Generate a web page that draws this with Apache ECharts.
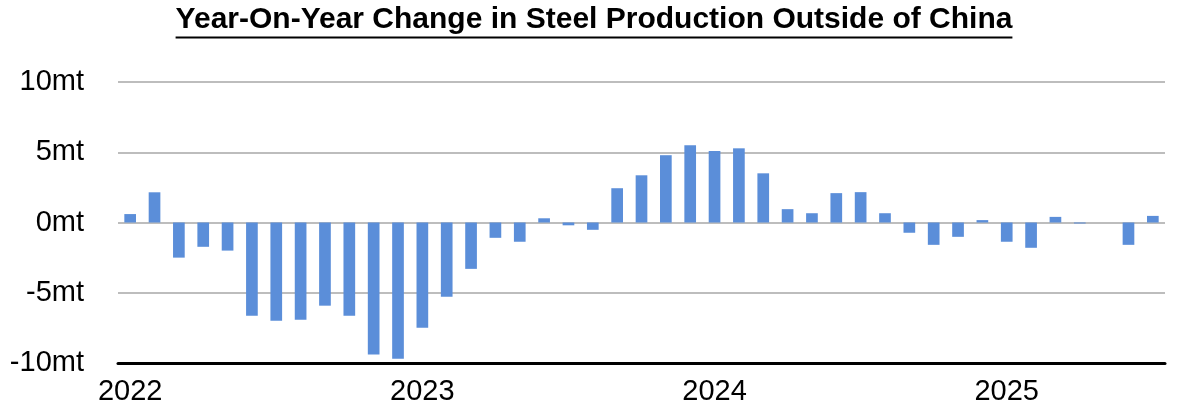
<!DOCTYPE html>
<html>
<head>
<meta charset="utf-8">
<script src="https://cdn.jsdelivr.net/npm/echarts@6/dist/echarts.min.js"></script>
<style>
html,body{margin:0;padding:0;background:#fff;}
#chart{width:1188px;height:413px;}
</style>
</head>
<body>
<div id="chart"></div>
<script>
const titleText = 'Year-On-Year Change in Steel Production Outside of China';
const months = [
  '2022-01','2022-02','2022-03','2022-04','2022-05','2022-06','2022-07','2022-08','2022-09','2022-10','2022-11','2022-12',
  '2023-01','2023-02','2023-03','2023-04','2023-05','2023-06','2023-07','2023-08','2023-09','2023-10','2023-11','2023-12',
  '2024-01','2024-02','2024-03','2024-04','2024-05','2024-06','2024-07','2024-08','2024-09','2024-10','2024-11','2024-12',
  '2025-01','2025-02','2025-03','2025-04','2025-05','2025-06','2025-07'
];
const yoyChange = [
  0.6, 2.15, -2.5, -1.73, -2.0, -6.63, -7.0, -6.92, -5.92, -6.63, -9.4, -9.7,
  -7.49, -5.28, -3.3, -1.09, -1.37, 0.3, -0.2, -0.52, 2.44, 3.36, 4.79, 5.5,
  5.09, 5.28, 3.5, 0.95, 0.66, 2.09, 2.16, 0.66, -0.73, -1.59, -1.02, 0.17,
  -1.37, -1.8, 0.4, -0.07, 0, -1.59, 0.47
];
const yTicks = { min: -10, max: 10, interval: 5 };

const FONT = '"Liberation Sans", Arial, Helvetica, sans-serif';
const chart = echarts.init(document.getElementById('chart'));

const cv = document.createElement('canvas').getContext('2d');
cv.font = 'bold 30px ' + FONT;
const tw = cv.measureText(titleText).width;
const cx = 1188 / 2;

chart.setOption({
  animation: false,
  title: {
    text: titleText,
    left: 'center',
    top: 5,
    padding: 0,
    textStyle: { fontFamily: FONT, fontSize: 30, fontWeight: 'bold', color: '#000' }
  },
  graphic: [{
    type: 'line',
    shape: { x1: cx - tw / 2, y1: 37.5, x2: cx + tw / 2, y2: 37.5 },
    style: { stroke: '#000', lineWidth: 2 }
  }],
  grid: { left: 118, right: 23, top: 82, bottom: 50 },
  xAxis: {
    type: 'category',
    data: months,
    boundaryGap: true,
    axisLine: { onZero: false, lineStyle: { color: '#000', width: 3 } },
    axisTick: { show: false },
    axisLabel: {
      interval: function (i) { return i % 12 === 0; },
      formatter: function (v) { return v.slice(0, 4); },
      fontFamily: FONT, fontSize: 29, color: '#000', margin: 14
    }
  },
  yAxis: {
    type: 'value',
    min: yTicks.min, max: yTicks.max, interval: yTicks.interval,
    axisLine: { show: false },
    axisTick: { show: false },
    splitLine: { lineStyle: { color: '#bdbdbd', width: 2 } },
    axisLabel: {
      formatter: function (v) { return v + 'mt'; },
      fontFamily: FONT, fontSize: 29, color: '#000', margin: 34
    }
  },
  series: [{
    type: 'bar',
    data: yoyChange,
    barWidth: '48%',
    itemStyle: { color: '#5b8ed9' }
  }]
});
</script>
</body>
</html>
